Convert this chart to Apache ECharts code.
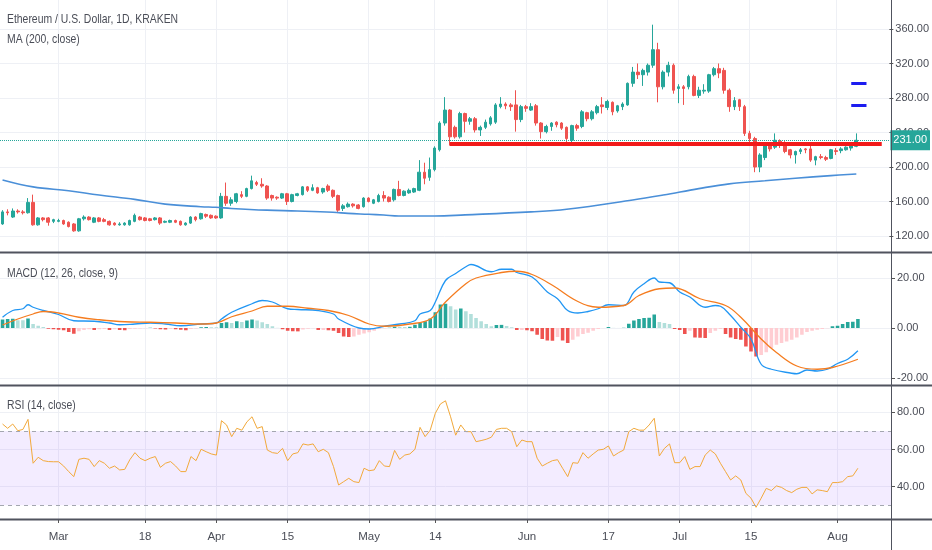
<!DOCTYPE html>
<html>
<head>
<meta charset="utf-8">
<title>ETH/USD 1D</title>
<script src="https://cdn.jsdelivr.net/npm/echarts@6/dist/echarts.min.js"></script>
<style>
  html, body { margin: 0; padding: 0; background: #fff; }
  #chart { width: 932px; height: 550px; }
</style>
</head>
<body>
<div id="chart"></div>
<script>
// Ethereum / U.S. Dollar, daily, Kraken: 18 Feb 2019 - 5 Aug 2019 (+ empty days to 11 Aug)
var startDay = Date.UTC(2019, 1, 18);
var dayCount = 175;

// bottom axis labels: [day index, text]
var xTicks = [[11, 'Mar'], [28, '18'], [42, 'Apr'], [56, '15'], [72, 'May'], [85, '14'],
              [103, 'Jun'], [119, '17'], [133, 'Jul'], [147, '15'], [164, 'Aug']];

var priceTicks = [120, 160, 200, 240, 280, 320, 360];
var macdTicks = [-20, 0, 20];
var rsiTicks = [40, 60, 80];

// [open, close, low, high]
var ohlc = [
  [134,148,133,150],[148,147,144,151],[142,149,141,152],[149,148,146,151],[148,147,145,150],
  [147,159,146,164],[159,133,132,168],[133,141,132,142],[141,139,137,142],[141,136,132,142],
  [137,139,135,140],[137,138,136,140],[138,134,133,139],[136,131,130,137],[134,126,125,135],
  [126,140,125,141],[140,142,138,144],[142,139,138,143],[136,141,135,142],[141,137,136,142],
  [139,137,136,141],[137,133,132,138],[135,133,132,136],[133,134,132,136],[133,135,132,136],
  [133,138,132,139],[137,144,136,146],[142,139,138,143],[141,138,137,142],[140,138,137,141],
  [139,141,138,142],[141,135,133,142],[136,137,135,138],[136,138,135,139],[138,136,135,139],
  [137,133,132,138],[133,135,132,136],[135,142,134,143],[142,139,137,143],[140,146,139,147],
  [145,143,141,146],[144,141,140,145],[143,141,140,144],[141,166,140,170],[166,158,155,182],
  [158,162,155,165],[160,169,158,170],[168,166,164,172],[166,175,165,176],[175,184,174,190],
  [182,180,178,184],[180,178,176,187],[178,164,162,179],[167,164,161,168],[165,164,162,166],
  [164,169,163,170],[169,160,156,170],[160,168,159,169],[167,169,166,170],[168,177,167,178],
  [177,173,171,178],[173,176,172,180],[176,170,169,177],[171,175,169,176],[178,173,171,180],
  [173,166,164,174],[167,150,148,168],[152,155,149,157],[154,157,153,159],[157,155,153,158],
  [156,152,151,157],[154,164,153,165],[164,160,159,165],[158,162,157,163],[160,167,159,169],
  [167,164,160,172],[165,160,159,166],[162,174,160,175],[174,167,166,184],[167,172,166,173],
  [170,173,169,175],[171,175,170,176],[173,194,172,208],[194,187,180,205],[188,197,184,211],
  [197,222,195,224],[220,251,218,253],[251,266,248,281],[266,235,225,267],[246,235,233,248],
  [235,262,233,264],[262,253,240,263],[253,256,249,258],[256,243,240,258],[243,246,236,248],
  [246,252,244,255],[250,257,248,259],[252,272,250,274],[270,273,268,281],[273,271,267,275],
  [272,270,265,274],[272,255,241,289],[255,270,252,272],[270,268,264,272],[266,270,265,274],
  [271,251,248,273],[251,241,233,252],[241,247,239,249],[247,251,242,252],[252,249,246,253],
  [251,245,243,252],[246,233,229,247],[231,248,229,249],[248,245,242,250],[247,264,245,266],
  [263,256,253,264],[256,264,254,266],[263,270,261,272],[272,270,262,281],[269,276,266,278],
  [275,264,260,276],[265,271,263,272],[270,273,266,275],[272,297,271,298],[297,310,293,316],
  [310,307,302,320],[307,312,294,314],[310,318,306,320],[318,336,315,365],[336,293,275,344],
  [293,310,290,312],[310,318,305,322],[318,289,285,320],[291,293,274,296],[293,291,272,295],
  [293,305,290,307],[305,283,282,307],[283,289,280,293],[288,289,285,296],[288,307,286,308],
  [307,314,305,316],[314,309,303,320],[312,289,285,315],[289,270,264,291],[270,277,266,281],
  [278,270,265,279],[270,239,236,272],[239,233,228,242],[233,200,194,235],[200,214,194,216],
  [211,227,208,229],[227,221,218,229],[223,231,221,239],[230,226,222,232],[227,218,216,230],
  [220,214,210,221],[214,218,204,219],[218,220,215,222],[221,220,216,222],[221,208,206,226],
  [208,212,202,213],[212,211,209,215],[211,209,207,213],[210,220,209,221],[219,218,214,222],
  [219,221,216,223],[220,223,219,224],[222,225,219,226],[224,231,223,239]
];

// MA(200) read at [day index, value]
var ma200 = [[0,185],[6,177],[13,172.5],[19,167.5],[26,162.5],[32,157],[39,154],[42,153.3],
  [45,152],[52,150],[58,149],[65,147.5],[68,146.3],[72,145.2],[75,144.3],[78,143.2],[85,143.2],
  [91,144.5],[104,148],[111,151],[124,161.7],[130,167.5],[137,175],[143,180.5],[150,184],
  [156,187],[163,190],[168,192]];

// MACD(12,26,9) line and signal, [day index, value]
var macdLine = [[0,4.3],[2,7],[4,7.7],[5,9.3],[6,8.3],[8,7],[11,5.4],[14,2.9],[18,2.7],[21,2],
  [23,1.3],[26,1.6],[29,2],[32,1.6],[35,0.9],[39,1.6],[42,2],[43,3.6],[45,6.3],[49,9.7],[51,11],
  [53,10.4],[56,7.7],[58,7.4],[62,7],[65,5.6],[66,3.6],[70,0],[72,-0.4],[75,0.7],[78,1.6],
  [81,2.9],[82,5.6],[84,7],[85,10.4],[87,19],[89,21.8],[91,24.5],[92,25.4],[96,22.5],[98,23.5],
  [100,23.5],[101,22.2],[104,20.4],[107,14.4],[109,11.7],[111,7],[113,6],[115,6.6],[117,7.7],
  [119,9.3],[122,9],[124,14.4],[126,17.7],[128,20],[129,18.4],[131,18.1],[133,14.4],[135,12.4],
  [138,8.3],[140,9],[141,8.7],[143,5],[145,0.3],[147,-4.4],[149,-14.5],[151,-16.5],[155,-18.1],
  [156,-18.3],[158,-16.8],[160,-17.2],[162,-16.5],[164,-14.2],[166,-12.5],[168,-9.1]];

var macdSignal = [[0,1.2],[3,3.6],[6,5.6],[8,6.6],[11,6],[15,4.3],[19,3.3],[24,2.5],[29,2.3],
  [34,2],[39,1.6],[42,2],[45,4.5],[49,6.8],[52,8.7],[56,8.7],[60,7.9],[64,7],[68,5],[72,1.6],
  [75,0.7],[80,1.6],[84,3.6],[87,10.4],[91,17.7],[93,20],[98,22.2],[101,22.7],[104,21.4],
  [108,17.1],[113,10.6],[117,8.3],[122,9],[125,13],[129,15.7],[132,16],[137,11.7],[142,9],
  [145,4.3],[149,-4.4],[152,-9.8],[156,-15.2],[160,-16.5],[163,-15.8],[168,-12.5]];

// MACD histogram, one value per day
var macdHist = [3.4,3.6,3.7,3.1,3.1,3.8,1.6,0.9,0.4,-0.3,
  -0.5,-0.7,-0.9,-1.6,-2.3,-1.3,-0.8,-0.5,-0.8,-0.5,
  -0.4,-0.8,-0.5,-0.8,-0.9,-0.4,-0.3,-0.2,-0.1,0.1,
  -0.2,-0.5,-0.6,-0.3,-0.5,-0.7,-0.9,-0.4,-0.2,0.3,
  0.4,0.3,0.3,2.0,2.3,2.0,2.7,2.4,3.0,3.4,
  3.0,2.3,1.6,0.7,0.05,-0.5,-1.1,-1.3,-1.35,-0.6,
  -0.3,-0.1,-0.8,-0.8,-0.9,-1.1,-2.0,-3.4,-3.6,-3.4,
  -2.7,-2.2,-1.7,-1.1,-0.4,-0.1,0.1,0.5,0.5,0.4,
  0.5,1.3,2.0,2.7,3.8,6.3,9.4,9.7,8.7,7.4,
  7.8,6.7,5.6,4.0,2.7,1.6,0.7,1.2,1.25,0.8,
  0.3,-0.8,-0.8,-0.9,-1.3,-2.7,-4.4,-5.0,-5.1,-3.6,
  -5.0,-6.0,-4.7,-3.4,-2.4,-1.9,-1.1,-0.4,-0.05,0.4,
  0.05,0.02,0.1,1.7,3.0,3.6,4.0,4.1,5.4,2.4,
  2.0,1.6,-0.4,-0.8,-2.4,-1.1,-3.8,-3.9,-4.0,-2.0,
  -1.1,-0.4,-2.4,-3.8,-4.4,-4.7,-7.4,-9.4,-11.4,-10.8,
  -9.7,-8.0,-6.7,-6.0,-5.4,-4.7,-3.8,-2.7,-1.6,-1.1,
  -0.7,-0.4,-0.1,0.7,0.9,1.6,2.4,2.5,3.6];

// RSI(14), one value per day
var rsi = [73.7,71.4,73.7,70.1,70.8,76.2,52.6,55.8,54,53.5,
  53.4,53.4,51.1,48.1,45.4,54.7,55.3,54.7,50.8,54,
  52.6,49.9,51.1,49,49.3,54.5,58.3,55.3,54,55.3,
  56.2,50.4,52.6,53.5,51.1,48.1,48.1,56.2,54,60.1,
  58.8,57.6,57,75.5,73.2,66.9,71.4,70.4,74.9,77.6,
  71.4,72.3,59.7,58.3,57.9,60.6,54,57.6,58.3,63,
  62.4,63,58.8,60.1,58.3,50.8,40.9,42.7,44.5,42.7,
  42.2,49.9,48.6,49,54,51.1,50.8,59.5,54.7,57,
  57.6,60.1,71.9,66.9,70.4,79.5,84.5,86.2,77.6,67.7,
  73.2,69.6,69.6,64.2,64.8,65.5,66.6,70.8,71.4,71.4,
  69.6,61.5,65.1,64.2,64.2,55.3,51.1,52.6,54,54.5,
  49.9,45.4,52.9,52.6,58.3,55.3,57.6,59.7,60.1,61.9,
  56.5,58.3,59.7,69.6,71.4,70.4,70.4,73.2,76.8,56.5,
  60.6,63,52.9,52.9,56.2,49.3,50.8,50.8,57,59.7,
  57.6,52.6,48.1,43.6,45.8,43.6,36.4,33.8,28.9,33.8,
  39.1,37.9,40.4,39.6,37.9,36.8,38.6,39.6,39.6,36.1,
  38.3,37.9,37.3,42.2,42.2,42.7,45.4,45.8,49.9];

// drawings on the price pane
var supportLevel = 227.5, supportFrom = 88, supportTo = 173;
var markLevels = [297, 272], markFrom = 167, markTo = 170;

var UP = '#26a69a', DOWN = '#ef5350';
var FONT = "'Liberation Sans', Arial, sans-serif";
var GRIDC = '#eef0f5', TEXTC = '#4a4d57';

var days = [];
for (var i = 0; i < dayCount; i++) {
  var d = new Date(startDay + i * 86400000);
  days.push(d.toISOString().slice(0, 10));
}
var tickText = {};
xTicks.forEach(function (t) { tickText[t[0]] = t[1]; });
function onTick(i) { return tickText[i] !== undefined; }

var histData = macdHist.map(function (v, i) {
  var prev = i > 0 ? macdHist[i - 1] : 0;
  var c;
  if (v >= 0) c = v > prev ? UP : '#b2dfdb';
  else c = v < prev ? DOWN : '#ffcdd2';
  return { value: v, itemStyle: { color: c } };
});

var lastClose = ohlc[ohlc.length - 1][1];

var grids = [
  { left: 0, right: 41, top: 0, height: 252 },
  { left: 0, right: 41, top: 252, height: 133 },
  { left: 0, right: 41, top: 385, height: 134 }
];

function xAxisFor(g) {
  return {
    type: 'category', gridIndex: g, data: days, boundaryGap: true,
    axisLine: { show: false },
    axisTick: { show: g === 2, interval: onTick, alignWithLabel: true, length: 4, lineStyle: { color: '#555' } },
    axisLabel: { show: g === 2, interval: onTick, margin: 12, color: TEXTC, fontSize: 11.5, fontFamily: FONT,
      formatter: function (v, idx) { return tickText[idx] || ''; } },
    splitLine: { show: true, interval: onTick, alignWithLabel: true, lineStyle: { color: GRIDC } }
  };
}

function yAxisFor(g, min, max, ticks) {
  return {
    type: 'value', gridIndex: g, position: 'right', min: min, max: max,
    axisLine: { show: false },
    axisTick: { show: true, customValues: ticks, length: 4, lineStyle: { color: '#555' } },
    axisLabel: { customValues: ticks, margin: 6, color: TEXTC, fontSize: 11, fontFamily: FONT,
      formatter: function (v) { return v.toFixed(2); } },
    splitLine: { show: true, lineStyle: { color: GRIDC } }
  };
}

// pane captions, drawn a little condensed like the original
function caption(text, y) {
  return { type: 'text', x: 7, y: y, scaleX: 0.8, z: 50,
    style: { text: text, fill: TEXTC, font: "13px 'Liberation Sans', Arial, sans-serif", verticalAlign: 'middle' } };
}
function rule(x1, y1, x2, y2, w) {
  return { type: 'line', z: 100, shape: { x1: x1, y1: y1, x2: x2, y2: y2 }, style: { stroke: '#50535e', lineWidth: w } };
}

var chart = echarts.init(document.getElementById('chart'));
chart.setOption({
  animation: false,
  backgroundColor: '#fff',
  grid: grids,
  xAxis: [xAxisFor(0), xAxisFor(1), xAxisFor(2)],
  yAxis: [
    yAxisFor(0, 101.5, 393.6, priceTicks),
    yAxisFor(1, -22.8, 30.4, macdTicks),
    yAxisFor(2, 22.6, 94.7, rsiTicks)
  ],
  graphic: [
    caption('Ethereum / U.S. Dollar, 1D, KRAKEN', 19),
    caption('MA (200, close)', 39),
    caption('MACD (12, 26, close, 9)', 273),
    caption('RSI (14, close)', 405),
    rule(0, 252.5, 932, 252.5, 2),
    rule(0, 385.5, 932, 385.5, 2),
    rule(0, 519.5, 932, 519.5, 2),
    rule(891.5, 0, 891.5, 550, 1)
  ],
  series: [
    {
      name: 'ETHUSD', type: 'candlestick', xAxisIndex: 0, yAxisIndex: 0,
      data: ohlc, barWidth: '62%',
      itemStyle: { color: UP, color0: DOWN, borderColor: UP, borderColor0: DOWN, borderWidth: 1 },
      markLine: {
        silent: true, symbol: 'none', animation: false,
        data: [
          { yAxis: lastClose, lineStyle: { color: UP, type: 'dotted', width: 1 },
            label: { show: true, position: 'end', distance: 1, formatter: lastClose.toFixed(2),
              backgroundColor: UP, color: '#fff', padding: [5, 3, 4, 3], fontSize: 11, fontFamily: FONT } },
          [ { coord: [supportFrom, supportLevel] }, { coord: [supportTo, supportLevel],
              lineStyle: { color: '#f21a1a', width: 4, type: 'solid' }, label: { show: false } } ],
          [ { coord: [markFrom, markLevels[0]] }, { coord: [markTo, markLevels[0]],
              lineStyle: { color: '#1c1cf0', width: 3, type: 'solid' }, label: { show: false } } ],
          [ { coord: [markFrom, markLevels[1]] }, { coord: [markTo, markLevels[1]],
              lineStyle: { color: '#1c1cf0', width: 3, type: 'solid' }, label: { show: false } } ]
        ]
      }
    },
    {
      name: 'MA', type: 'line', xAxisIndex: 0, yAxisIndex: 0, data: ma200,
      smooth: 0.4, symbol: 'none', lineStyle: { color: '#4a8fd8', width: 1.6 }, z: 3
    },
    {
      name: 'Histogram', type: 'bar', xAxisIndex: 1, yAxisIndex: 1, data: histData, barWidth: '70%'
    },
    {
      name: 'MACD', type: 'line', xAxisIndex: 1, yAxisIndex: 1, data: macdLine,
      smooth: 0.4, symbol: 'none', lineStyle: { color: '#2196f3', width: 1.3 }, z: 4
    },
    {
      name: 'Signal', type: 'line', xAxisIndex: 1, yAxisIndex: 1, data: macdSignal,
      smooth: 0.4, symbol: 'none', lineStyle: { color: '#f57c1f', width: 1.3 }, z: 4
    },
    {
      name: 'RSI', type: 'line', xAxisIndex: 2, yAxisIndex: 2, data: rsi,
      symbol: 'none', lineStyle: { color: '#f2a93b', width: 1 }, z: 4,
      markArea: {
        silent: true,
        itemStyle: { color: 'rgba(153, 102, 255, 0.12)' },
        data: [[{ yAxis: 30 }, { yAxis: 70 }]]
      },
      markLine: {
        silent: true, symbol: 'none', label: { show: false },
        lineStyle: { color: '#a3a6af', type: [4, 4], width: 1 },
        data: [{ yAxis: 70 }, { yAxis: 30 }]
      }
    }
  ]
});
</script>
</body>
</html>
